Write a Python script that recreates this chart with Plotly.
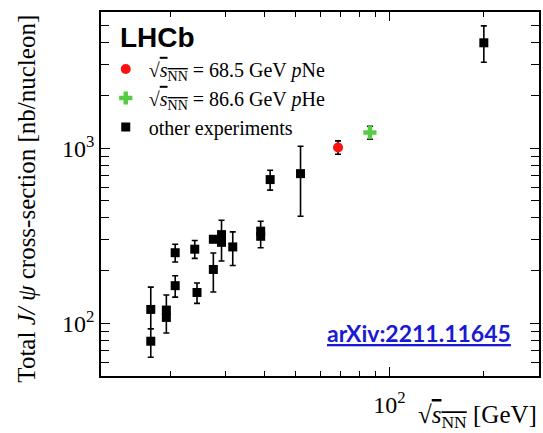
import plotly.graph_objects as go

# Other experiments: sqrt(s_NN) [GeV], cross-section [nb/nucleon], upper / lower errors
other_x = [17.3, 17.3, 19.4, 19.4, 20.7, 20.7, 23.9, 24.3, 27.4, 27.4, 29.1, 29.1, 31.6, 38.8, 38.8, 41.6, 52.0, 200.0]
other_y = [120, 79, 119, 108, 253, 164, 265, 150, 203, 302, 321, 290, 273, 336, 314, 662, 716, 4000]
other_up = [41, 14, 26, 15, 30, 23, 32, 20, 49, 12, 67, 20, 60, 47, 25, 87, 311, 1000]
other_dn = [27, 15, 15, 20, 29, 23, 30, 20, 52, 12, 20, 63, 59, 25, 44, 86, 307, 900]

# LHCb fixed-target results
pne_x, pne_y, pne_up, pne_dn = [68.5], [1009], [92], [85]
phe_x, phe_y, phe_up, phe_dn = [86.6], [1229], [107], [103]

x_major = [100]
x_major_text = ["10<sup>2</sup>"]
x_minor = [20, 30, 40, 50, 60, 70, 80, 90, 200]
y_major = [100, 1000]
y_major_text = ["10<sup>2</sup>", "10<sup>3</sup>"]
y_minor = [60, 70, 80, 90, 200, 300, 400, 500, 600, 700, 800, 900, 2000, 3000, 4000, 5000]

SERIF = "Liberation Serif"
SQRTS = "√<span style='text-decoration:overline'><i>s</i><sub>NN</sub></span>"


def err(up, dn):
    return dict(type="data", symmetric=False, array=up, arrayminus=dn,
                color="black", thickness=1.6, width=3)


fig = go.Figure()
fig.add_trace(go.Scatter(
    x=pne_x, y=pne_y, mode="markers", name=f"{SQRTS} = 68.5 GeV <i>p</i>Ne",
    marker=dict(symbol="circle", size=10, color="#ff1010"),
    error_y=err(pne_up, pne_dn)))
fig.add_trace(go.Scatter(
    x=phe_x, y=phe_y, mode="markers", name=f"{SQRTS} = 86.6 GeV <i>p</i>He",
    marker=dict(symbol="cross", size=11, color="#55cc44"),
    error_y=err(phe_up, phe_dn)))
fig.add_trace(go.Scatter(
    x=other_x, y=other_y, mode="markers", name="other experiments",
    marker=dict(symbol="square", size=9, color="black"),
    error_y=err(other_up, other_dn)))

axis_common = dict(type="log", showgrid=False, zeroline=False, showline=True,
                   linecolor="black", linewidth=1.6, mirror="ticks",
                   ticks="inside", tickcolor="black", tickwidth=1.2,
                   tickfont=dict(family=SERIF, size=24, color="black"))

fig.update_xaxes(**axis_common, range=[1.0792, 2.4771],
                 tickvals=x_major, ticktext=x_major_text, ticklen=9,
                 ticklabelstandoff=6,
                 minor=dict(tickvals=x_minor, ticks="inside", ticklen=5,
                            tickcolor="black", tickwidth=1.2))
fig.update_yaxes(**axis_common, range=[1.699, 3.778],
                 tickvals=y_major, ticktext=y_major_text, ticklen=9,
                 minor=dict(tickvals=y_minor, ticks="inside", ticklen=8,
                            tickcolor="black", tickwidth=1.2))

fig.add_annotation(text="<b>LHCb</b>", xref="paper", yref="paper",
                   x=0.038, y=0.931, xanchor="left", yanchor="middle",
                   showarrow=False, font=dict(family="Liberation Sans", size=28, color="black"))
fig.add_annotation(text="Total <i>J/ ψ</i> cross-section [nb/nucleon]",
                   xref="paper", yref="paper", x=-0.17, y=0.486, textangle=-90,
                   xanchor="center", yanchor="middle", showarrow=False,
                   font=dict(family=SERIF, size=25, color="black"))
fig.add_annotation(text=f"{SQRTS} [GeV]", xref="paper", yref="paper",
                   x=1.0, y=-0.11, xanchor="right", yanchor="middle",
                   showarrow=False, font=dict(family=SERIF, size=25, color="black"))
fig.add_annotation(text="<b><u>arXiv:2211.11645</u></b>", xref="paper", yref="paper",
                   x=0.725, y=0.118, xanchor="center", yanchor="middle",
                   showarrow=False, font=dict(family="Lato", size=23, color="#1a1ad4"))

fig.update_layout(
    width=543, height=433, margin=dict(l=101, r=2, t=12, b=57),
    paper_bgcolor="white", plot_bgcolor="white", showlegend=True,
    legend=dict(x=0.004, y=0.897, xanchor="left", yanchor="top",
                bgcolor="rgba(0,0,0,0)", traceorder="normal", itemwidth=36,
                font=dict(family=SERIF, size=20, color="black")),
)

fig.write_html("out.html")
